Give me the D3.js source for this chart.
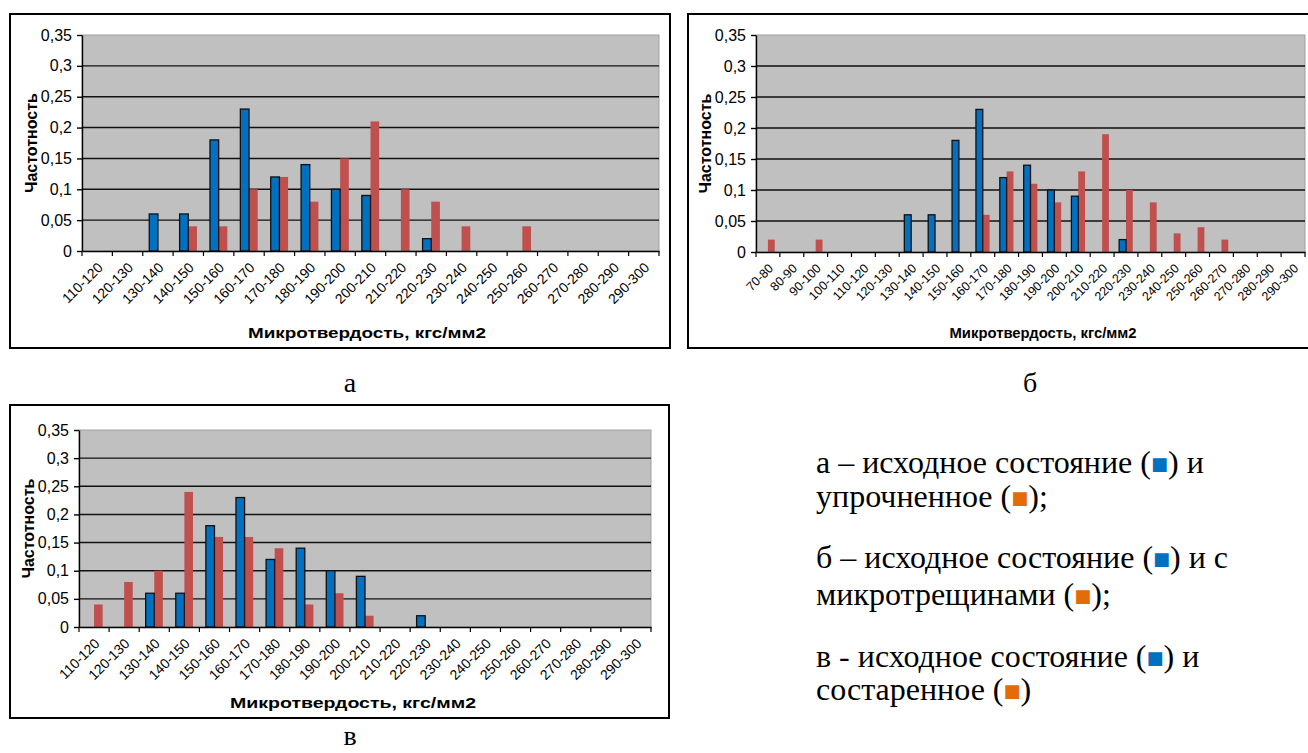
<!DOCTYPE html>
<html lang="ru">
<head>
  <meta charset="UTF-8">
  <title>Микротвердость – гистограммы</title>
  <script src="https://d3js.org/d3.v7.min.js"></script>
  <style>
    body { margin: 0; background: #fff; }
    svg { display: block; }
    .tick text { font-family: "Liberation Sans", Arial, sans-serif; fill: #000; }
    .axis-title { font-family: "Liberation Sans", Arial, sans-serif; font-weight: bold; font-size: 15px; fill: #000; }
    .caption, .legend { font-family: "Liberation Serif", "Times New Roman", serif; fill: #000; }
  </style>
</head>
<body>
<svg width="1308" height="753"></svg>
<script>
  // категории (интервалы микротвердости)
  const catsAC = ["110-120","120-130","130-140","140-150","150-160","160-170","170-180","180-190",
    "190-200","200-210","210-220","220-230","230-240","240-250","250-260","260-270","270-280",
    "280-290","290-300"];
  const catsB = ["70-80","80-90","90-100","100-110"].concat(catsAC);

  // исходное состояние (одинаково на всех трех графиках)
  const baseAC = [0,0,0.06,0.06,0.18,0.23,0.12,0.14,0.10,0.09,0,0.02,0,0,0,0,0,0,0];
  const baseB  = [0,0,0,0].concat(baseAC);

  // а – упрочненное
  const hardened = [0,0,0,0.04,0.04,0.10,0.12,0.08,0.15,0.21,0.10,0.08,0.04,0,0.04,0,0,0,0];
  // б – с микротрещинами
  const cracked = [0.02,0,0.02,0,0,0,0,0,0,0.06,0.13,0.11,0.08,0.13,0.19,0.10,0.08,0.03,0.04,0.02,0,0,0];
  // в – состаренное
  const aged = [0.04,0.08,0.10,0.24,0.16,0.16,0.14,0.04,0.06,0.02,0,0,0,0,0,0,0,0,0];

  const yTicks = [0,0.05,0.1,0.15,0.2,0.25,0.3,0.35];
  const yTickLabels = ["0","0,05","0,1","0,15","0,2","0,25","0,3","0,35"];

  const blue = "#0070C0", red = "#C0504D", orange = "#E36C09";

  const svg = d3.select("svg");

  const panels = [
    { cats: catsAC, base: baseAC, other: hardened, frame: [10,14,670,348], plot: [82,35,659,251],
      titleX: 367, titleLen: 238, xFont: 14, cap: "а", capX: 350, capY: 392 },
    { cats: catsB,  base: baseB,  other: cracked,  frame: [688,14,1320,348], plot: [756,35,1305,252],
      titleX: 1043, titleLen: 187, xFont: 12.5, cap: "б", capX: 1030, capY: 392 },
    { cats: catsAC, base: baseAC, other: aged,     frame: [10,405,669,718], plot: [79,430,651,627],
      titleX: 353, titleLen: 246, xFont: 14, cap: "в", capX: 350, capY: 745 }
  ];

  panels.forEach(p => {
    const [fx0, fy0, fx1, fy1] = p.frame;
    const [px0, py0, px1, py1] = p.plot;

    svg.append("rect")
      .attr("x", fx0).attr("y", fy0)
      .attr("width", fx1 - fx0).attr("height", fy1 - fy0)
      .attr("fill", "#fff").attr("stroke", "#000").attr("stroke-width", 2);

    const x0 = d3.scaleBand().domain(p.cats).range([px0, px1]).padding(0);
    const x1 = d3.scaleBand().domain(["base","other"]).range([0, x0.bandwidth()])
      .paddingInner(0).paddingOuter(0.75);
    const y = d3.scaleLinear().domain([0, 0.35]).range([py1, py0]);

    const g = svg.append("g");

    g.append("rect")
      .attr("x", px0).attr("y", py0)
      .attr("width", px1 - px0).attr("height", py1 - py0)
      .attr("fill", "#C0C0C0").attr("stroke", "#a0a0a0").attr("stroke-width", 1);

    // сетка
    g.selectAll(".grid")
      .data(yTicks.slice(1, -1))
      .join("line")
      .attr("x1", px0).attr("x2", px1)
      .attr("y1", d => y(d)).attr("y2", d => y(d))
      .attr("stroke", "#111").attr("stroke-width", 1.4);

    const rows = p.cats.map((c, i) => ({ cat: c, base: p.base[i], other: p.other[i] }));

    // столбики
    g.selectAll(".bar-other")
      .data(rows.filter(d => d.other > 0))
      .join("rect")
      .attr("x", d => x0(d.cat) + x1("other"))
      .attr("y", d => y(d.other))
      .attr("width", x1.bandwidth())
      .attr("height", d => py1 - y(d.other))
      .attr("fill", red);

    g.selectAll(".bar-base")
      .data(rows.filter(d => d.base > 0))
      .join("rect")
      .attr("x", d => x0(d.cat) + x1("base"))
      .attr("y", d => y(d.base))
      .attr("width", x1.bandwidth())
      .attr("height", d => py1 - y(d.base))
      .attr("fill", blue).attr("stroke", "#111").attr("stroke-width", 1.3);

    // оси
    const yAxis = g.append("g")
      .attr("transform", `translate(${px0},0)`)
      .call(d3.axisLeft(y).tickValues(yTicks).tickFormat((d, i) => yTickLabels[i])
        .tickSize(5).tickPadding(5).tickSizeOuter(0));
    yAxis.selectAll("text").style("font-size", "16px");
    yAxis.selectAll("line, path").attr("stroke", "#000").attr("stroke-width", 1.4);

    const xAxis = g.append("g")
      .attr("transform", `translate(0,${py1})`)
      .call(d3.axisBottom(x0).tickSize(0).tickFormat(d => d));
    xAxis.select(".domain").attr("stroke", "#000").attr("stroke-width", 1.4);
    xAxis.selectAll("text")
      .style("font-size", p.xFont + "px")
      .style("text-anchor", "end")
      .attr("y", 0).attr("dy", "0.35em")
      .attr("transform", "translate(3,14) rotate(-45)");

    // засечки на границах интервалов
    g.selectAll(".xtick")
      .data(p.cats.concat(["end"]))
      .join("line")
      .attr("x1", (d, i) => px0 + i * x0.step())
      .attr("x2", (d, i) => px0 + i * x0.step())
      .attr("y1", py1).attr("y2", py1 + 5)
      .attr("stroke", "#000").attr("stroke-width", 1.2);

    svg.append("text")
      .attr("class", "axis-title")
      .attr("transform", `translate(${px0 - 51},${(py0 + py1) / 2}) rotate(-90)`)
      .attr("text-anchor", "middle")
      .attr("dy", "0.35em")
      .style("font-size", "16px")
      .text("Частотность");

    svg.append("text")
      .attr("class", "axis-title")
      .attr("x", p.titleX - p.titleLen / 2).attr("y", fy1 - 10)
      .attr("textLength", p.titleLen)
      .attr("lengthAdjust", "spacingAndGlyphs")
      .text("Микротвердость, кгс/мм2");

    svg.append("text")
      .attr("class", "caption")
      .attr("x", p.capX).attr("y", p.capY)
      .attr("text-anchor", "middle")
      .style("font-size", "28px")
      .text(p.cap);
  });

  // подписи к рисунку
  const legendLines = [
    [["а – исходное состояние (", null], ["■", blue], [") и", null]],
    [["упрочненное (", null], ["■", orange], [");", null]],
    [["б – исходное состояние (", null], ["■", blue], [") и с", null]],
    [["микротрещинами (", null], ["■", orange], [");", null]],
    [["в - исходное состояние (", null], ["■", blue], [") и", null]],
    [["состаренное (", null], ["■", orange], [")", null]]
  ];
  const legendY = [473, 507, 568, 605, 667, 700];

  legendLines.forEach((parts, i) => {
    const t = svg.append("text")
      .attr("class", "legend")
      .attr("x", 816).attr("y", legendY[i])
      .style("font-size", "32px");
    parts.forEach(([s, c]) => {
      const ts = t.append("tspan").text(s);
      if (c) ts.attr("fill", c).style("font-size", "18px").attr("dy", -3)
        .style("font-family", "'DejaVu Sans', sans-serif");
      else if (s.startsWith(")")) ts.attr("dy", 3);
    });
  });
</script>
</body>
</html>
